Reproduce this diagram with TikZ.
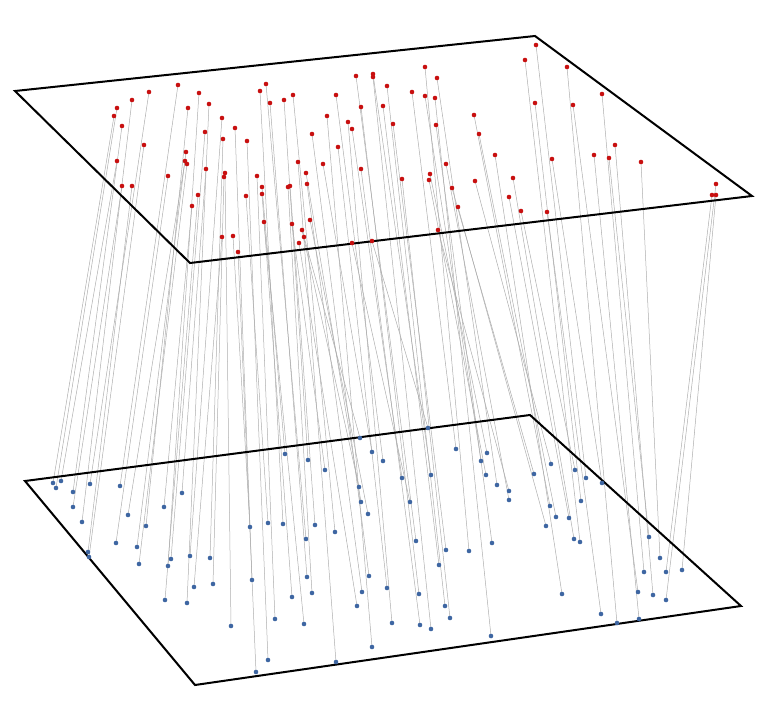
\documentclass[tikz,border=0pt]{standalone}
\definecolor{ptred}{RGB}{200,16,16}
\definecolor{ptblue}{RGB}{62,102,162}
\tikzset{
  plane/.style={line width=2pt, line join=miter},
  link/.style={black!32, line width=.5pt},
  reddot/.style={fill=ptred},
  bluedot/.style={fill=ptblue}}
\begin{document}
\begin{tikzpicture}[x=1pt, y=-1pt]
  \useasboundingbox (0,0) rectangle (768,717);
  \foreach \x/\y [count=\i] in {114/116, 117/108, 117/161, 122/126, 122/186, 132/100, 132/186, 144/145, 149/92, 168/176,
      178/85, 185/161, 186/152, 187/164, 188/108, 192/206, 198/195, 199/93, 205/132, 206/169,
      209/104, 222/118, 222/237, 223/139, 224/177, 225/173, 233/236, 235/128, 238/252, 246/196,
      247/141, 257/176, 260/91, 262/187, 262/194, 264/222, 266/84, 270/103, 284/100, 288/187,
      290/186, 292/224, 293/95, 298/162, 299/243, 302/230, 304/237, 306/173, 307/184, 310/220,
      312/134, 323/164, 327/116, 336/95, 338/147, 348/122, 352/129, 352/243, 356/76, 361/107,
      361/169, 372/241, 373/74, 373/77, 383/106, 387/86, 393/124, 402/179, 412/92, 425/67,
      425/96, 429/180, 430/174, 435/98, 436/125, 437/78, 438/230, 446/164, 452/188, 458/207,
      474/115, 475/181, 479/134, 495/155, 509/197, 513/178, 521/211, 525/60, 535/103, 536/45,
      547/212, 552/159, 567/67, 573/105, 594/155, 602/94, 609/158, 615/145, 641/162, 712/195,
      716/184, 716/195}
    \coordinate (r\i) at (\x,\y);
  \foreach \x/\y [count=\i] in {53/483, 56/488, 61/481, 73/492, 73/507, 82/522, 88/552, 89/557, 90/484, 116/543,
      120/486, 128/515, 137/547, 139/564, 146/526, 164/507, 165/600, 168/566, 171/559, 182/493,
      187/603, 190/556, 194/587, 210/558, 213/584, 231/626, 250/527, 252/580, 256/672, 268/523,
      268/660, 275/619, 283/524, 285/454, 292/597, 304/624, 306/539, 307/577, 308/460, 312/593,
      315/525, 325/470, 335/532, 336/662, 357/606, 359/487, 360/438, 361/502, 362/592, 368/514,
      369/576, 372/452, 372/647, 383/461, 387/588, 392/623, 402/478, 410/502, 416/541, 419/594,
      420/625, 428/428, 431/475, 431/629, 439/565, 445/606, 446/550, 450/618, 456/449, 469/551,
      481/461, 486/475, 487/453, 491/636, 492/543, 497/485, 509/491, 509/500, 534/474, 546/526,
      550/506, 551/464, 556/517, 562/594, 569/518, 574/539, 575/470, 580/542, 581/501, 586/478,
      601/614, 602/483, 617/623, 638/592, 639/619, 644/572, 649/537, 653/595, 660/558, 666/572,
      666/600, 682/570}
    \coordinate (b\i) at (\x,\y);
  \foreach \i in {1,...,102}
    \draw [link] (r\i) -- (b\i);
  \draw [plane] (15,91) -- (535,36) -- (752,196) -- (190,263) -- cycle;
  \draw [plane] (25,481) -- (530,415) -- (741,606) -- (195,685) -- cycle;
  \foreach \i in {1,...,102} {
    \fill [reddot] (r\i) circle [radius=2.3pt];
    \fill [bluedot] (b\i) circle [radius=2.3pt];
  }
\end{tikzpicture}
\end{document}
